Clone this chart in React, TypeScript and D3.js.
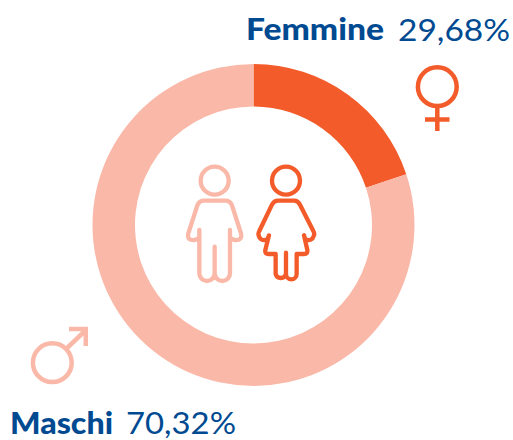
import React from "react";
import * as d3 from "d3";

const categories = ["Femmine", "Maschi"];
const valueLabels = ["29,68%", "70,32%"];
// Share of the ring each segment covers in the picture (the drawn arc, not the printed label)
const drawnShares = [19.9, 80.1];
const segmentColors = ["#F35C2A", "#FAB8A8"];
const BLUE = "#004A92";

const manBody =
  "M88 240 L88 370 A23 23 0 0 0 134 370 L134 290 L134 370 A23 23 0 0 0 180 370 L180 240 M88 264 L74 270 Q50 272 55 250 L82 166 Q88 152 102 152 L166 152 Q180 152 186 166 L213 250 Q218 272 194 270 L180 264";
const womanBody =
  "M297 256 L292 268 Q272 276 266 256 Q264 250 268 243 L306 164 Q312 152 324 152 L372 152 Q384 152 390 164 L430 243 Q434 250 432 256 Q426 276 406 268 L402 256 L412 300 Q414 312 402 312 L380 312 L380 372 A16 16 0 0 1 348 372 L348 308 L348 372 A16 16 0 0 1 317 372 L317 312 L296 312 Q284 312 286 300 Z";

export default function App() {
  const pie = d3.pie<number>().sort(null)(drawnShares);
  const arc = d3.arc<d3.PieArcDatum<number>>().innerRadius(118.5).outerRadius(161);
  const font = "Lato, sans-serif";
  return (
    <svg
      width={513}
      height={440}
      style={{ position: "absolute", left: 0, top: 0, background: "#fff" }}
    >
      <g transform="translate(253.5,225)">
        {pie.map((d, i) => (
          <path key={categories[i]} d={arc(d) ?? ""} fill={segmentColors[i]} />
        ))}
      </g>

      <text x={246} y={40} fontFamily={font} fontSize={30.5} fill={BLUE} fontWeight={900} textLength={138} lengthAdjust="spacingAndGlyphs">
        {categories[0]}
      </text>
      <text x={398} y={41} fontFamily={font} fontSize={31} fill={BLUE} textLength={112} lengthAdjust="spacingAndGlyphs">
        {valueLabels[0]}
      </text>
      <text x={10} y={434} fontFamily={font} fontSize={30.5} fill={BLUE} fontWeight={900} textLength={103} lengthAdjust="spacingAndGlyphs">
        {categories[1]}
      </text>
      <text x={126} y={434} fontFamily={font} fontSize={31} fill={BLUE} textLength={110} lengthAdjust="spacingAndGlyphs">
        {valueLabels[1]}
      </text>

      {/* Venus sign */}
      <g fill="none" stroke={segmentColors[0]} strokeWidth={4.5}>
        <circle cx={437.3} cy={86.7} r={19.4} />
        <path d="M437.3 106 V131 M425 119.5 H449.5" />
      </g>
      {/* Mars sign */}
      <g fill="none" stroke={segmentColors[1]} strokeWidth={4.5}>
        <circle cx={52.3} cy={362.7} r={19.4} />
        <path d="M66 349 L86 330 M69 329 H85.8 V346" />
      </g>

      {/* Figures */}
      <g
        transform="translate(170,150) scale(0.3333)"
        fill="none"
        strokeWidth={13}
        strokeLinecap="round"
        strokeLinejoin="round"
      >
        <g stroke={segmentColors[1]}>
          <circle cx={134} cy={92} r={42} />
          <path d={manBody} />
        </g>
        <g stroke={segmentColors[0]}>
          <circle cx={348} cy={92} r={42} />
          <path d={womanBody} />
        </g>
      </g>
    </svg>
  );
}
